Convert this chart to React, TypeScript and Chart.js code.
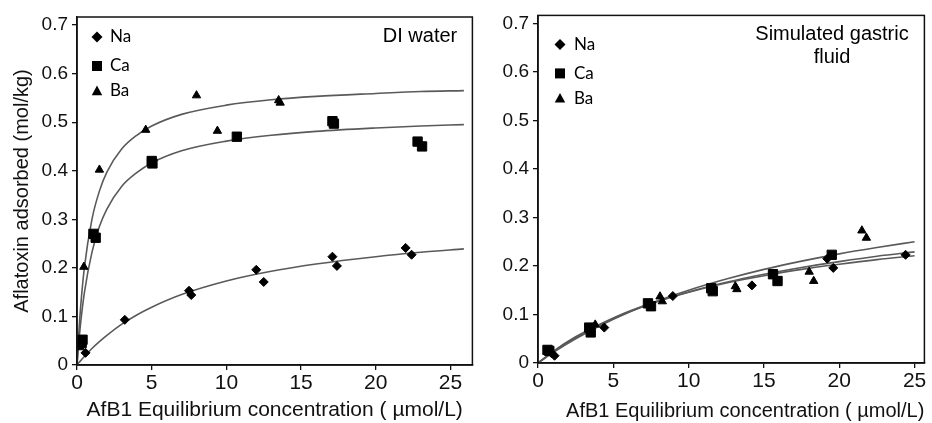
import React, { useEffect, useRef } from "react";
import { Chart, registerables } from "chart.js";
Chart.register(...registerables);

// ---------- Left panel: DI water ----------
const diNaX = [0.57, 3.2, 7.5, 7.65, 12.0, 12.5, 17.1, 17.4, 22.0, 22.4];
const diNaY = [0.025, 0.093, 0.153, 0.144, 0.196, 0.171, 0.223, 0.204, 0.241, 0.227];
const diCaX = [0.13, 0.31, 0.37, 1.1, 1.25, 5.0, 5.05, 10.7, 17.1, 17.2, 22.8, 23.1];
const diCaY = [0.041, 0.045, 0.052, 0.27, 0.262, 0.42, 0.415, 0.47, 0.502, 0.497, 0.46, 0.45];
const diBaX = [0.46, 1.5, 4.6, 8.0, 9.4, 13.5, 13.6];
const diBaY = [0.202, 0.402, 0.484, 0.555, 0.482, 0.545, 0.54];
const diFitX = [0, 0.1, 0.25, 0.5, 1, 1.5, 2, 3, 4, 5, 7, 10, 13, 16, 20, 23, 25.9];
const diFitNa = [0, 0.004, 0.009, 0.018, 0.034, 0.048, 0.061, 0.084, 0.103, 0.119, 0.145, 0.173, 0.193, 0.208, 0.223, 0.232, 0.239];
const diFitCa = [0, 0.039, 0.088, 0.15, 0.232, 0.285, 0.321, 0.368, 0.396, 0.416, 0.441, 0.461, 0.473, 0.481, 0.488, 0.492, 0.495];
const diFitBa = [0, 0.056, 0.122, 0.202, 0.3, 0.358, 0.397, 0.445, 0.473, 0.492, 0.516, 0.535, 0.546, 0.553, 0.559, 0.563, 0.565];

// ---------- Right panel: Simulated gastric fluid ----------
const sgNaX = [0.9, 1.1, 4.4, 8.95, 14.2, 19.2, 19.6, 24.4];
const sgNaY = [0.02, 0.015, 0.073, 0.138, 0.16, 0.215, 0.196, 0.223];
const sgCaX = [0.63, 0.75, 3.4, 3.5, 7.3, 7.5, 11.5, 11.6, 15.6, 15.9, 19.5];
const sgCaY = [0.027, 0.025, 0.073, 0.063, 0.123, 0.117, 0.154, 0.148, 0.183, 0.169, 0.223];
const sgBaX = [3.8, 8.1, 8.25, 13.1, 13.2, 18.0, 18.3, 21.5, 21.8];
const sgBaY = [0.079, 0.137, 0.127, 0.158, 0.152, 0.188, 0.169, 0.273, 0.258];
const sgFitX = [0, 1, 2.5, 5, 7.5, 10, 12.5, 15, 17.5, 20, 22.5, 25];
const sgFit1 = [0, 0.0215, 0.05, 0.09, 0.123, 0.15, 0.173, 0.193, 0.21, 0.225, 0.238, 0.25];
const sgFit2 = [0, 0.023, 0.052, 0.0915, 0.122, 0.1465, 0.1665, 0.183, 0.197, 0.209, 0.22, 0.229];
const sgFit3 = [0, 0.024, 0.054, 0.093, 0.123, 0.146, 0.165, 0.18, 0.193, 0.2035, 0.213, 0.221];

// ---------- Axes / labels ----------
const xTickVals = [0, 5, 10, 15, 20, 25];
const yTickVals = [0, 0.1, 0.2, 0.3, 0.4, 0.5, 0.6, 0.7];
const legendLabels = ["Na", "Ca", "Ba"];
const xTitle = "AfB1 Equilibrium concentration ( \u00b5mol/L)";
const yTitle = "Aflatoxin adsorbed (mol/kg)";
const leftNote = ["DI water"];
const rightNote = ["Simulated gastric", "fluid"];

const SANS = "'Liberation Sans', Arial, sans-serif";
const CURVE = "#5a5a5a";

const pts = (xs: number[], ys: number[]) => xs.map((x, i) => ({ x, y: ys[i] }));

function drawMarker(ctx: CanvasRenderingContext2D, kind: string, x: number, y: number, r: number) {
  ctx.beginPath();
  if (kind === "diamond") {
    ctx.moveTo(x, y - r);
    ctx.lineTo(x + r, y);
    ctx.lineTo(x, y + r);
    ctx.lineTo(x - r, y);
  } else if (kind === "square") {
    ctx.rect(x - r, y - r, 2 * r, 2 * r);
  } else {
    ctx.moveTo(x, y - r);
    ctx.lineTo(x + r * 0.95, y + r * 0.75);
    ctx.lineTo(x - r * 0.95, y + r * 0.75);
  }
  ctx.closePath();
  ctx.fill();
}

const framePlugin = {
  id: "frame",
  afterDraw(chart: any, _args: any, opts: any) {
    const { ctx, chartArea: a } = chart;
    ctx.save();
    ctx.strokeStyle = "#111";
    ctx.lineWidth = 1.5;
    ctx.strokeRect(a.left, a.top, a.right - a.left, a.bottom - a.top);
    // legend
    const kinds = ["diamond", "square", "triangle"];
    ctx.fillStyle = "#000";
    ctx.font = "17px Lato, 'Open Sans', sans-serif";
    ctx.textBaseline = "middle";
    ctx.textAlign = "left";
    legendLabels.forEach((lab, i) => {
      const mx = a.left + opts.legX;
      const my = a.top + opts.legY[i];
      drawMarker(ctx, kinds[i], mx, my, i === 1 ? 5 : 5.5);
      ctx.fillText(lab, mx + opts.legGap, my);
    });
    // note
    ctx.font = "20px " + SANS;
    ctx.textAlign = "center";
    ctx.textBaseline = "alphabetic";
    opts.note.forEach((t: string, i: number) => {
      ctx.fillText(t, opts.noteX, opts.noteY + i * 23);
    });
    ctx.restore();
  },
};

function makeConfig(p: any): any {
  const datasets: any[] = [
    { type: "scatter", data: pts(p.naX, p.naY), pointStyle: "rectRot", pointRadius: 4.5, backgroundColor: "#000", borderColor: "#000", borderWidth: 1 },
    { type: "scatter", data: pts(p.caX, p.caY), pointStyle: "rect", pointRadius: 6.6, backgroundColor: "#000", borderColor: "#000", borderWidth: 1 },
    { type: "scatter", data: pts(p.baX, p.baY), pointStyle: "triangle", pointRadius: 4.8, backgroundColor: "#000", borderColor: "#000", borderWidth: 1 },
  ];
  p.fits.forEach((f: number[]) => {
    datasets.push({
      type: "line",
      data: pts(p.fitX, f),
      borderColor: CURVE,
      borderWidth: 1.6,
      pointRadius: 0,
      fill: false,
      cubicInterpolationMode: "monotone",
    });
  });
  return {
    type: "scatter",
    data: { datasets },
    options: {
      animation: false,
      responsive: false,
      maintainAspectRatio: false,
      devicePixelRatio: 1,
      layout: { padding: { top: p.padTop, right: 2, left: 0, bottom: 0 } },
      plugins: {
        legend: { display: false },
        tooltip: { enabled: false },
        frame: { legX: p.legX, legY: p.legY, legGap: p.legGap, note: p.note, noteX: p.noteX, noteY: p.noteY },
      },
      scales: {
        x: {
          type: "linear",
          min: 0,
          max: p.xMax,
          afterBuildTicks: (s: any) => { s.ticks = xTickVals.map((v) => ({ value: v })); },
          afterFit: (s: any) => { s.height = p.xAxisH; },
          ticks: { color: "#111", font: { family: SANS, size: 21 }, padding: 1, maxRotation: 0, autoSkip: false, callback: (v: any) => String(v) },
          grid: { display: true, drawOnChartArea: false, drawTicks: true, tickLength: 5, color: "#111", lineWidth: 1.3 },
          border: { display: true, color: "#111", width: 1.5 },
          title: {
            display: true,
            text: xTitle,
            color: "#111",
            align: p.xTitleAlign,
            font: { family: SANS, size: p.xTitleSize, lineHeight: 1.2 },
            padding: { top: 0, bottom: 0 },
          },
        },
        y: {
          type: "linear",
          min: 0,
          max: 0.7165,
          afterBuildTicks: (s: any) => { s.ticks = yTickVals.map((v) => ({ value: v })); },
          afterFit: (s: any) => { s.width = p.yAxisW; },
          ticks: { color: "#111", font: { family: SANS, size: 19 }, padding: 4, autoSkip: false, callback: (v: any) => (v === 0 ? "0" : Number(v).toFixed(1)) },
          grid: { display: true, drawOnChartArea: false, drawTicks: true, tickLength: 5, color: "#111", lineWidth: 1.3 },
          border: { display: true, color: "#111", width: 1.5 },
          title: {
            display: p.showYTitle,
            text: yTitle,
            color: "#111",
            font: { family: SANS, size: 20, lineHeight: 1.2 },
            padding: { top: 10, bottom: 0 },
          },
        },
      },
    },
    plugins: [framePlugin],
  };
}

function Panel(props: { cfg: any; width: number; height: number; left: number }) {
  const ref = useRef<HTMLCanvasElement | null>(null);
  useEffect(() => {
    if (!ref.current) return;
    const chart = new Chart(ref.current, props.cfg);
    return () => chart.destroy();
  }, []);
  return (
    <canvas
      ref={ref}
      width={props.width}
      height={props.height}
      style={{ position: "absolute", left: props.left, top: 0, width: props.width, height: props.height, display: "block" }}
    />
  );
}

const leftCfg = makeConfig({
  naX: diNaX, naY: diNaY, caX: diCaX, caY: diCaY, baX: diBaX, baY: diBaY,
  fitX: diFitX, fits: [diFitBa, diFitCa, diFitNa],
  xMax: 26.47, padTop: 17, xAxisH: 58, yAxisW: 77, showYTitle: true,
  xTitleAlign: "center", xTitleSize: 21,
  legX: 20, legY: [20, 49, 74], legGap: 13,
  note: leftNote, noteX: 420, noteY: 42,
});

const rightCfg = makeConfig({
  naX: sgNaX, naY: sgNaY, caX: sgCaX, caY: sgCaY, baX: sgBaX, baY: sgBaY,
  fitX: sgFitX, fits: [sgFit1, sgFit2, sgFit3],
  xMax: 25.65, padTop: 15, xAxisH: 60, yAxisW: 58, showYTitle: false,
  xTitleAlign: "end", xTitleSize: 20,
  legX: 22, legY: [29, 58, 83], legGap: 14,
  note: rightNote, noteX: 352, noteY: 40,
});

export default function App() {
  return (
    <div style={{ position: "absolute", left: 0, top: 0, width: 932, height: 423, background: "#fff" }}>
      <Panel cfg={leftCfg} width={480} height={423} left={0} />
      <Panel cfg={rightCfg} width={452} height={423} left={480} />
    </div>
  );
}
